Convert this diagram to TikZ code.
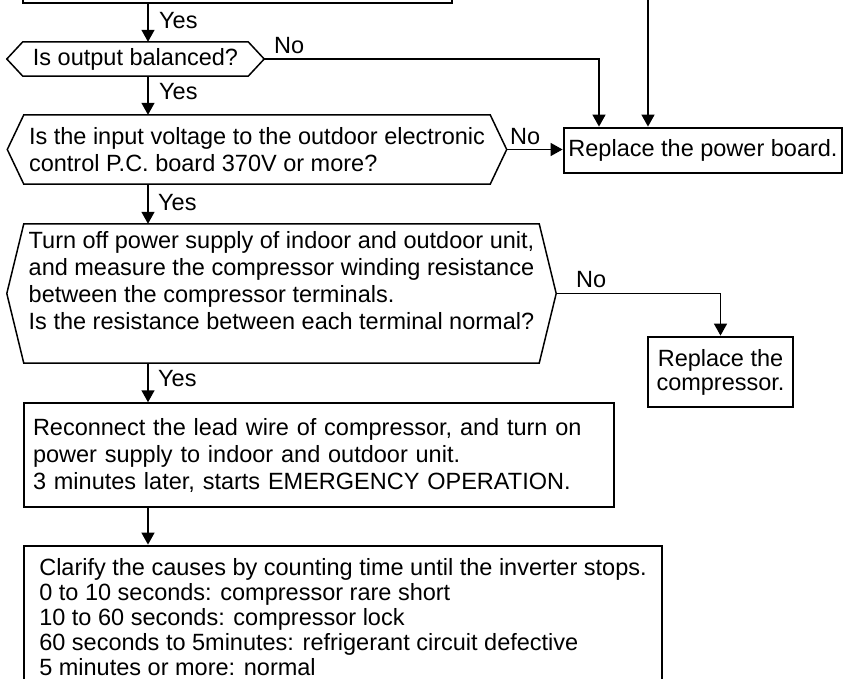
\documentclass[tikz,border=0pt]{standalone}
\usepackage{fontspec}
\setmainfont{Liberation Sans}
\usetikzlibrary{arrows.meta,calc}

% outline of a decision hexagon around a node, with named tips
\newcommand\hexframe[2]{%
  \draw[thinline] ([xshift=-#2]#1.west) coordinate (#1-w)
    -- (#1.north west) -- (#1.north east)
    -- ([xshift=#2]#1.east) coordinate (#1-e)
    -- (#1.south east) -- (#1.south west) -- cycle;}

\begin{document}
\begin{tikzpicture}[x=1pt,y=-1pt,
  txt/.style={font=\fontsize{23.5}{27}\selectfont},
  thinline/.style={line width=1.5pt},
  boxthin/.style={draw,thinline,rectangle,inner sep=0pt,txt},
  boxthick/.style={draw,line width=2.8pt,rectangle,inner sep=0pt,txt},
  hexbody/.style={rectangle,inner sep=0pt,txt},
  arr/.style={thinline,-{Triangle[width=13pt,length=12pt]}},
  lbl/.style={txt,inner sep=0pt,anchor=west},
]
\useasboundingbox (0,0) rectangle (843,679);

% process step above the checks
\node[boxthin, minimum width=429pt, minimum height=60pt] (top) at (237.5,-27) {};
\coordinate (feed) at (648,-10);

% decisions
\node[hexbody, minimum width=225pt, minimum height=34pt] (h1) at (135.5,59) {Is output balanced?};
\hexframe{h1}{16pt}

\node[hexbody, align=left, minimum width=466pt, minimum height=69pt] (h2) at (257,149.5)
  {Is the input voltage to the outdoor electronic\\control P.C. board 370V or more?};
\hexframe{h2}{16.5pt}

\node[hexbody, minimum width=515pt, minimum height=139pt] (h3) at (281.5,293.5)
  {\raisebox{9.5pt}[\height][\depth]{\begin{tabular}{@{}l@{}}
   Turn off power supply of indoor and outdoor unit,\\
   and measure the compressor winding resistance\\
   between the compressor terminals.\\
   Is the resistance between each terminal normal?\end{tabular}}};
\hexframe{h3}{17pt}

% actions
\node[boxthick, minimum width=278pt, minimum height=45pt] (pb) at (703,150.5) {Replace the power board.};

\node[boxthick, align=center, font=\fontsize{23.5}{24}\selectfont,
      minimum width=145pt, minimum height=70pt] (cp) at (720.5,372) {Replace the\\compressor.};

\node[boxthin, align=left, inner xsep=9pt, text width=572pt, minimum height=104pt] (b3) at (319,455)
  {Reconnect the lead wire of compressor, and turn on\\
   power supply to indoor and outdoor unit.\\
   3 minutes later, starts EMERGENCY OPERATION.};

\node[boxthick, align=left, font=\fontsize{23.5}{25}\selectfont,
      minimum width=638pt, minimum height=142pt] (b4) at (343,617)
  {Clarify the causes by counting time until the inverter stops.\\
   0 to 10 seconds: compressor rare short\\
   10 to 60 seconds: compressor lock\\
   60 seconds to 5minutes: refrigerant circuit defective\\
   5 minutes or more: normal};

% connectors
\coordinate (spine) at (148,0);
\coordinate (pbin) at (599,0);

\draw[arr] (top.south -| spine) -- (h1.north -| spine);
\node[lbl] (y1) at (159,21) {Yes};

\draw[arr] (h1.south -| spine) -- (h2.north -| spine);
\node[lbl] (y2) at (159,92) {Yes};

\draw[arr] (h1-e) -| (pb.north -| pbin);
\node[lbl] (n1) at (274,46) {No};

\draw[arr] (feed) -- (pb.north -| feed);

\draw[arr] (h2-e) -- (pb.west |- h2-e);
\node[lbl] (n2) at (510,137) {No};

\draw[arr] (h2.south -| spine) -- (h3.north -| spine);
\node[lbl] (y3) at (158,203) {Yes};

\draw[arr] (h3-e) -| (cp.north);
\node[lbl] (n3) at (576,280) {No};

\draw[arr] (h3.south -| spine) -- (b3.north -| spine);
\node[lbl] (y4) at (158,379) {Yes};

\draw[arr] (b3.south -| spine) -- (b4.north -| spine);
\end{tikzpicture}
\end{document}
